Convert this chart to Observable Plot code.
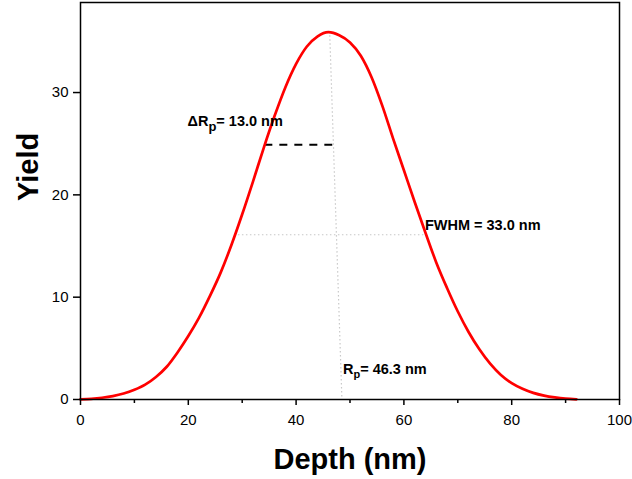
<!DOCTYPE html>
<html><head><meta charset="utf-8">
<script src="https://cdn.jsdelivr.net/npm/d3@7"></script>
<script src="https://cdn.jsdelivr.net/npm/@observablehq/plot@0.6"></script>
<style>body{margin:0;background:#fff}#chart svg{display:block}</style>
</head><body><div id="chart"></div>
<script>
// Depth (nm) and Yield values
const depth = [0,2,4,6,8,10,12,14,16,18,20,22,24,26,28,30,32,34,36,38,40,42,44,46,48,50,52,54,56,58,60,62,64,66,68,70,72,74,76,78,80,82,84,86,88,90,92];
const yieldVals = [0.02,0.07,0.17,0.33,0.58,0.95,1.45,2.2,3.2,4.6,6.2,8.0,10.1,12.4,15.1,18.1,21.3,24.6,27.7,30.5,32.8,34.5,35.5,35.9,35.6,34.9,33.6,31.5,28.7,25.5,22.4,19.3,16.3,13.4,10.9,8.6,6.6,4.9,3.5,2.4,1.6,1.05,0.65,0.38,0.2,0.08,0.02];

const xTicks = [0,20,40,60,80,100];
const xMinorTicks = [10,30,50,70,90];
const yTicks = [0,10,20,30];

// Reference lines (data units)
const fwhmLine = [{x1: 29.3, x2: 63.7, y: 16.1}];
const rpLine = [{x1: 46.25, y1: 35.6, x2: 48.5, y2: 0}];
const dRpLine = [{x1: 34.2, x2: 46.8, y: 24.9}];

// Annotations: main text, subscript, rest
const annotations = [
  {x: 19.85, y: 26.7, main: "\u0394R", sub: "p", rest: "= 13.0 nm", subSize: 13, subShift: 5},
  {x: 63.9, y: 16.6, main: "FWHM = 33.0 nm", sub: "", rest: "", subSize: 0, subShift: 0},
  {x: 48.7, y: 2.5, main: "R", sub: "p", rest: "= 46.3 nm", subSize: 11, subShift: 4}
];

const data = depth.map((d, i) => ({depth: d, y: yieldVals[i]}));
const font = "'Liberation Sans', Arial, sans-serif";

const chart = Plot.plot({
  width: 632,
  height: 479,
  marginLeft: 80,
  marginRight: 13,
  marginTop: 2,
  marginBottom: 80,
  style: {fontFamily: font, fontSize: "15px", background: "white", color: "black"},
  x: {domain: [0, 100]},
  y: {domain: [0, 38.8]},
  marks: [
    Plot.ruleY(fwhmLine, {x1: "x1", x2: "x2", y: "y", stroke: "#c8c8c8", strokeWidth: 1.2, strokeDasharray: "1.5,2.5"}),
    Plot.link(rpLine, {x1: "x1", y1: "y1", x2: "x2", y2: "y2", stroke: "#c8c8c8", strokeWidth: 1.2, strokeDasharray: "1.5,2.5"}),
    Plot.ruleY(dRpLine, {x1: "x1", x2: "x2", y: "y", stroke: "black", strokeWidth: 2, strokeDasharray: "8,7"}),
    Plot.line(data, {x: "depth", y: "y", stroke: "#ff0000", strokeWidth: 2.7, curve: "monotone-x"}),
    Plot.frame({stroke: "black", strokeWidth: 1.5}),
    Plot.axisX({ticks: xTicks, tickSize: 6, tickPadding: 9, fontSize: 15, strokeWidth: 1.5, label: null}),
    Plot.axisX({ticks: xMinorTicks, tickSize: 4, text: null, strokeWidth: 1.5, label: null}),
    Plot.axisY({ticks: yTicks, tickSize: 7, tickPadding: 5, fontSize: 15, strokeWidth: 1.5, label: null}),
    Plot.text(["Depth (nm)"], {frameAnchor: "bottom", lineAnchor: "bottom", dy: 69, fontSize: 29, fontWeight: "bold", fill: "black"}),
    Plot.text(["Yield"], {frameAnchor: "left", lineAnchor: "bottom", rotate: -90, dx: -43, fontSize: 29, fontWeight: "bold", fill: "black"}),
    Plot.text(annotations, {x: "x", y: "y", text: "main", textAnchor: "start", lineAnchor: "bottom", fontSize: 14.5, fontWeight: "bold", fill: "black", className: "annot"})
  ]
});

d3.select(chart).selectAll("g.annot text").each(function(_, i) {
  const a = annotations[i];
  if (!a || !a.sub) return;
  const t = d3.select(this);
  t.append("tspan").attr("font-size", a.subSize).attr("dy", a.subShift).text(a.sub);
  t.append("tspan").attr("font-size", 14.5).attr("dy", -a.subShift).text(a.rest);
});

document.getElementById("chart").appendChild(chart);
</script>
</body></html>
